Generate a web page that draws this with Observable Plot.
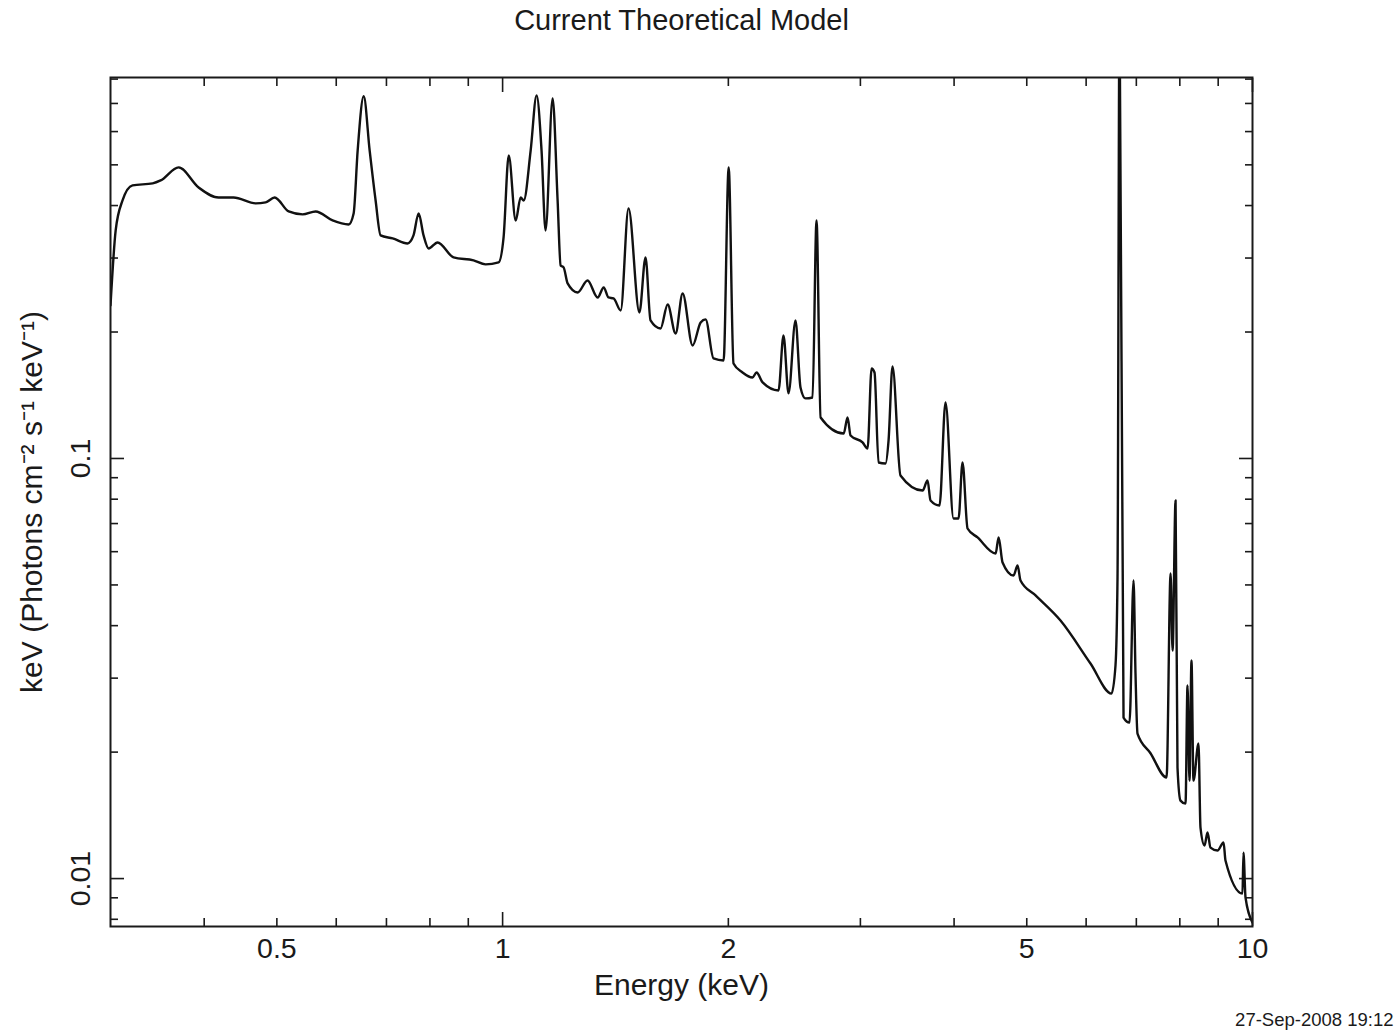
<!DOCTYPE html>
<html>
<head>
<meta charset="utf-8">
<script src="https://cdn.jsdelivr.net/npm/d3@7"></script>
<script src="https://cdn.jsdelivr.net/npm/@observablehq/plot@0.6"></script>
<style>
  body { margin: 0; background: #fff; }
  #chart svg { display: block; }
</style>
</head>
<body>
<div id="chart"></div>
<script>
// ---- data ----
const titleText = "Current Theoretical Model";
const xLabel = "Energy (keV)";
const yLabel = "keV (Photons cm\u207B\u00B2 s\u207B\u00B9 keV\u207B\u00B9)";
const dateStamp = "27-Sep-2008 19:12";

const energy = [
  0.300, 0.3048, 0.3113, 0.3210, 0.3415, 0.3499, 0.3698, 0.3932, 0.4181, 0.4378,
  0.4685, 0.4831, 0.4966, 0.5185, 0.5412, 0.5632, 0.5933, 0.6232, 0.6329, 0.6408,
  0.6528, 0.6648, 0.6771, 0.6876, 0.7135, 0.7468, 0.7606, 0.7727, 0.7845, 0.7968,
  0.8190, 0.8603, 0.9148, 0.9491, 0.9878, 1.003, 1.019, 1.041, 1.057, 1.067,
  1.090, 1.110, 1.127, 1.141, 1.166, 1.184, 1.195, 1.206, 1.221, 1.259,
  1.298, 1.339, 1.364, 1.384, 1.406, 1.437, 1.472, 1.522, 1.551, 1.575,
  1.624, 1.660, 1.701, 1.738, 1.792, 1.837, 1.865, 1.911, 1.971, 2.002,
  2.032, 2.089, 2.154, 2.181, 2.222, 2.333, 2.369, 2.406, 2.458, 2.496,
  2.535, 2.590, 2.622, 2.655, 2.850, 2.884, 2.911, 3.020, 3.067, 3.105,
  3.133, 3.172, 3.241, 3.271, 3.311, 3.393, 3.631, 3.687, 3.721, 3.825,
  3.896, 3.993, 4.055, 4.105, 4.169, 4.299, 4.544, 4.586, 4.642, 4.801,
  4.861, 4.905, 5.137, 5.546, 6.081, 6.486, 6.566, 6.607, 6.648, 6.730,
  6.855, 6.940, 6.982, 7.025, 7.311, 7.681, 7.776, 7.824, 7.896, 7.943, 8.017,
  8.141, 8.191, 8.241, 8.292, 8.342, 8.472, 8.524, 8.630, 8.710, 8.790,
  8.981, 9.149, 9.204, 9.697, 9.727, 9.788, 10.0
];

const flux = [
  0.2313, 0.3490, 0.4113, 0.4467, 0.4516, 0.4590, 0.4931, 0.4417, 0.4181, 0.4181,
  0.4047, 0.4069, 0.4181, 0.3873, 0.3811, 0.3873, 0.3686, 0.3606, 0.3831, 0.5412,
  0.7280, 0.5412, 0.4113, 0.3396, 0.3341, 0.3250, 0.3396, 0.3831, 0.3396, 0.3162,
  0.3268, 0.3011, 0.2962, 0.2897, 0.2929, 0.3359, 0.5265, 0.3686, 0.4181, 0.4113,
  0.5412, 0.7317, 0.5412, 0.3490, 0.7197, 0.4113, 0.2881, 0.2850, 0.2610, 0.2484,
  0.2653, 0.2417, 0.2553, 0.2417, 0.2404, 0.2251, 0.3938, 0.2226, 0.3011, 0.2131,
  0.2039, 0.2326, 0.1984, 0.2471, 0.1858, 0.2108, 0.2143, 0.1730, 0.1711, 0.4931,
  0.1683, 0.1602, 0.1559, 0.1602, 0.1517, 0.1452, 0.1963, 0.1429, 0.2131, 0.1476,
  0.1390, 0.1397, 0.3686, 0.1252, 0.1147, 0.1252, 0.1134, 0.1092, 0.1056, 0.1637,
  0.1602, 0.09783, 0.09730, 0.1104, 0.1656, 0.09110, 0.08389, 0.08863, 0.07943, 0.07729,
  0.1359, 0.07197, 0.07197, 0.09783, 0.06813, 0.06486, 0.05940, 0.06486, 0.05655, 0.05265,
  0.05563, 0.05124, 0.04720, 0.04113, 0.03250, 0.02757, 0.03215, 0.05207, 1.2, 0.02417,
  0.02351, 0.05124, 0.03077, 0.02214, 0.01988, 0.01740, 0.05323, 0.03490, 0.07943, 0.01837, 0.01533,
  0.01508, 0.02881, 0.01711, 0.03304, 0.01711, 0.02097, 0.01322, 0.01199, 0.01287, 0.01185,
  0.01166, 0.01219, 0.01104, 0.009210, 0.01153, 0.009013, 0.007855
];

const xTickLabels = [0.5, 1, 2, 5, 10];
const yTickLabels = [0.01, 0.1];
const xMajorTicks = [1, 10];
const xMinorTicks = [0.4, 0.5, 0.6, 0.7, 0.8, 0.9, 2, 3, 4, 5, 6, 7, 8, 9];
const yMajorTicks = [0.01, 0.1];
const yMinorTicks = [0.008, 0.009, 0.02, 0.03, 0.04, 0.05, 0.06, 0.07, 0.08, 0.09,
                     0.2, 0.3, 0.4, 0.5, 0.6, 0.7, 0.8];

// ---- chart ----
const spectrum = energy.map((e, i) => ({e, v: flux[i]}));
const font = "'Liberation Sans', Arial, Helvetica, sans-serif";
const ink = "#1a1a1a";

function tickAxes(scale, ticks, size) {
  const ax = scale === "x" ? Plot.axisX : Plot.axisY;
  const anchors = scale === "x" ? ["bottom", "top"] : ["left", "right"];
  return anchors.map(a => ax({
    anchor: a, ticks, tickSize: -size, fill: "none", label: null,
    stroke: ink, strokeWidth: 1.6
  }));
}

const chart = Plot.plot({
  width: 1397,
  height: 1031,
  marginTop: 77,
  marginLeft: 110,
  marginRight: 145,
  marginBottom: 105,
  style: {fontFamily: font, background: "white", color: ink},
  x: {type: "log", domain: [0.3, 10]},
  y: {type: "log", domain: [0.00769, 0.807]},
  marks: [
    ...tickAxes("x", xMinorTicks, 8),
    ...tickAxes("x", xMajorTicks, 14),
    ...tickAxes("y", yMinorTicks, 8),
    ...tickAxes("y", yMajorTicks, 14),
    Plot.line(spectrum, {x: "e", y: "v", stroke: "#111", strokeWidth: 2.4,
      curve: "monotone-x", clip: true}),
    Plot.frame({stroke: ink, strokeWidth: 2}),
    Plot.text(xTickLabels, {x: d => d, frameAnchor: "bottom", dy: 22, text: d => String(d),
      fontSize: 28.5, fontFamily: font, fill: ink, textAnchor: "middle", lineAnchor: "middle"}),
    Plot.text(yTickLabels, {y: d => d, frameAnchor: "left", dx: -30, rotate: -90, text: d => String(d),
      fontSize: 28.5, fontFamily: font, fill: ink, textAnchor: "middle", lineAnchor: "middle"}),
    Plot.text([xLabel], {frameAnchor: "bottom", dy: 59, text: d => d,
      fontSize: 30, fontFamily: font, fill: ink, textAnchor: "middle", lineAnchor: "middle"}),
    Plot.text([yLabel], {frameAnchor: "left", dx: -78, rotate: -90, text: d => d,
      fontSize: 30, fontFamily: font, fill: ink, textAnchor: "middle", lineAnchor: "middle"}),
    Plot.text([titleText], {frameAnchor: "top", dy: -57, text: d => d,
      fontSize: 29, fontFamily: font, fill: ink, textAnchor: "middle", lineAnchor: "middle"}),
    Plot.text([dateStamp], {frameAnchor: "bottom-right", dx: 141, dy: 94, text: d => d,
      textAnchor: "end", fontSize: 18.5, fontFamily: font, fill: ink, lineAnchor: "middle"})
  ]
});

document.getElementById("chart").appendChild(chart);
</script>
</body>
</html>
